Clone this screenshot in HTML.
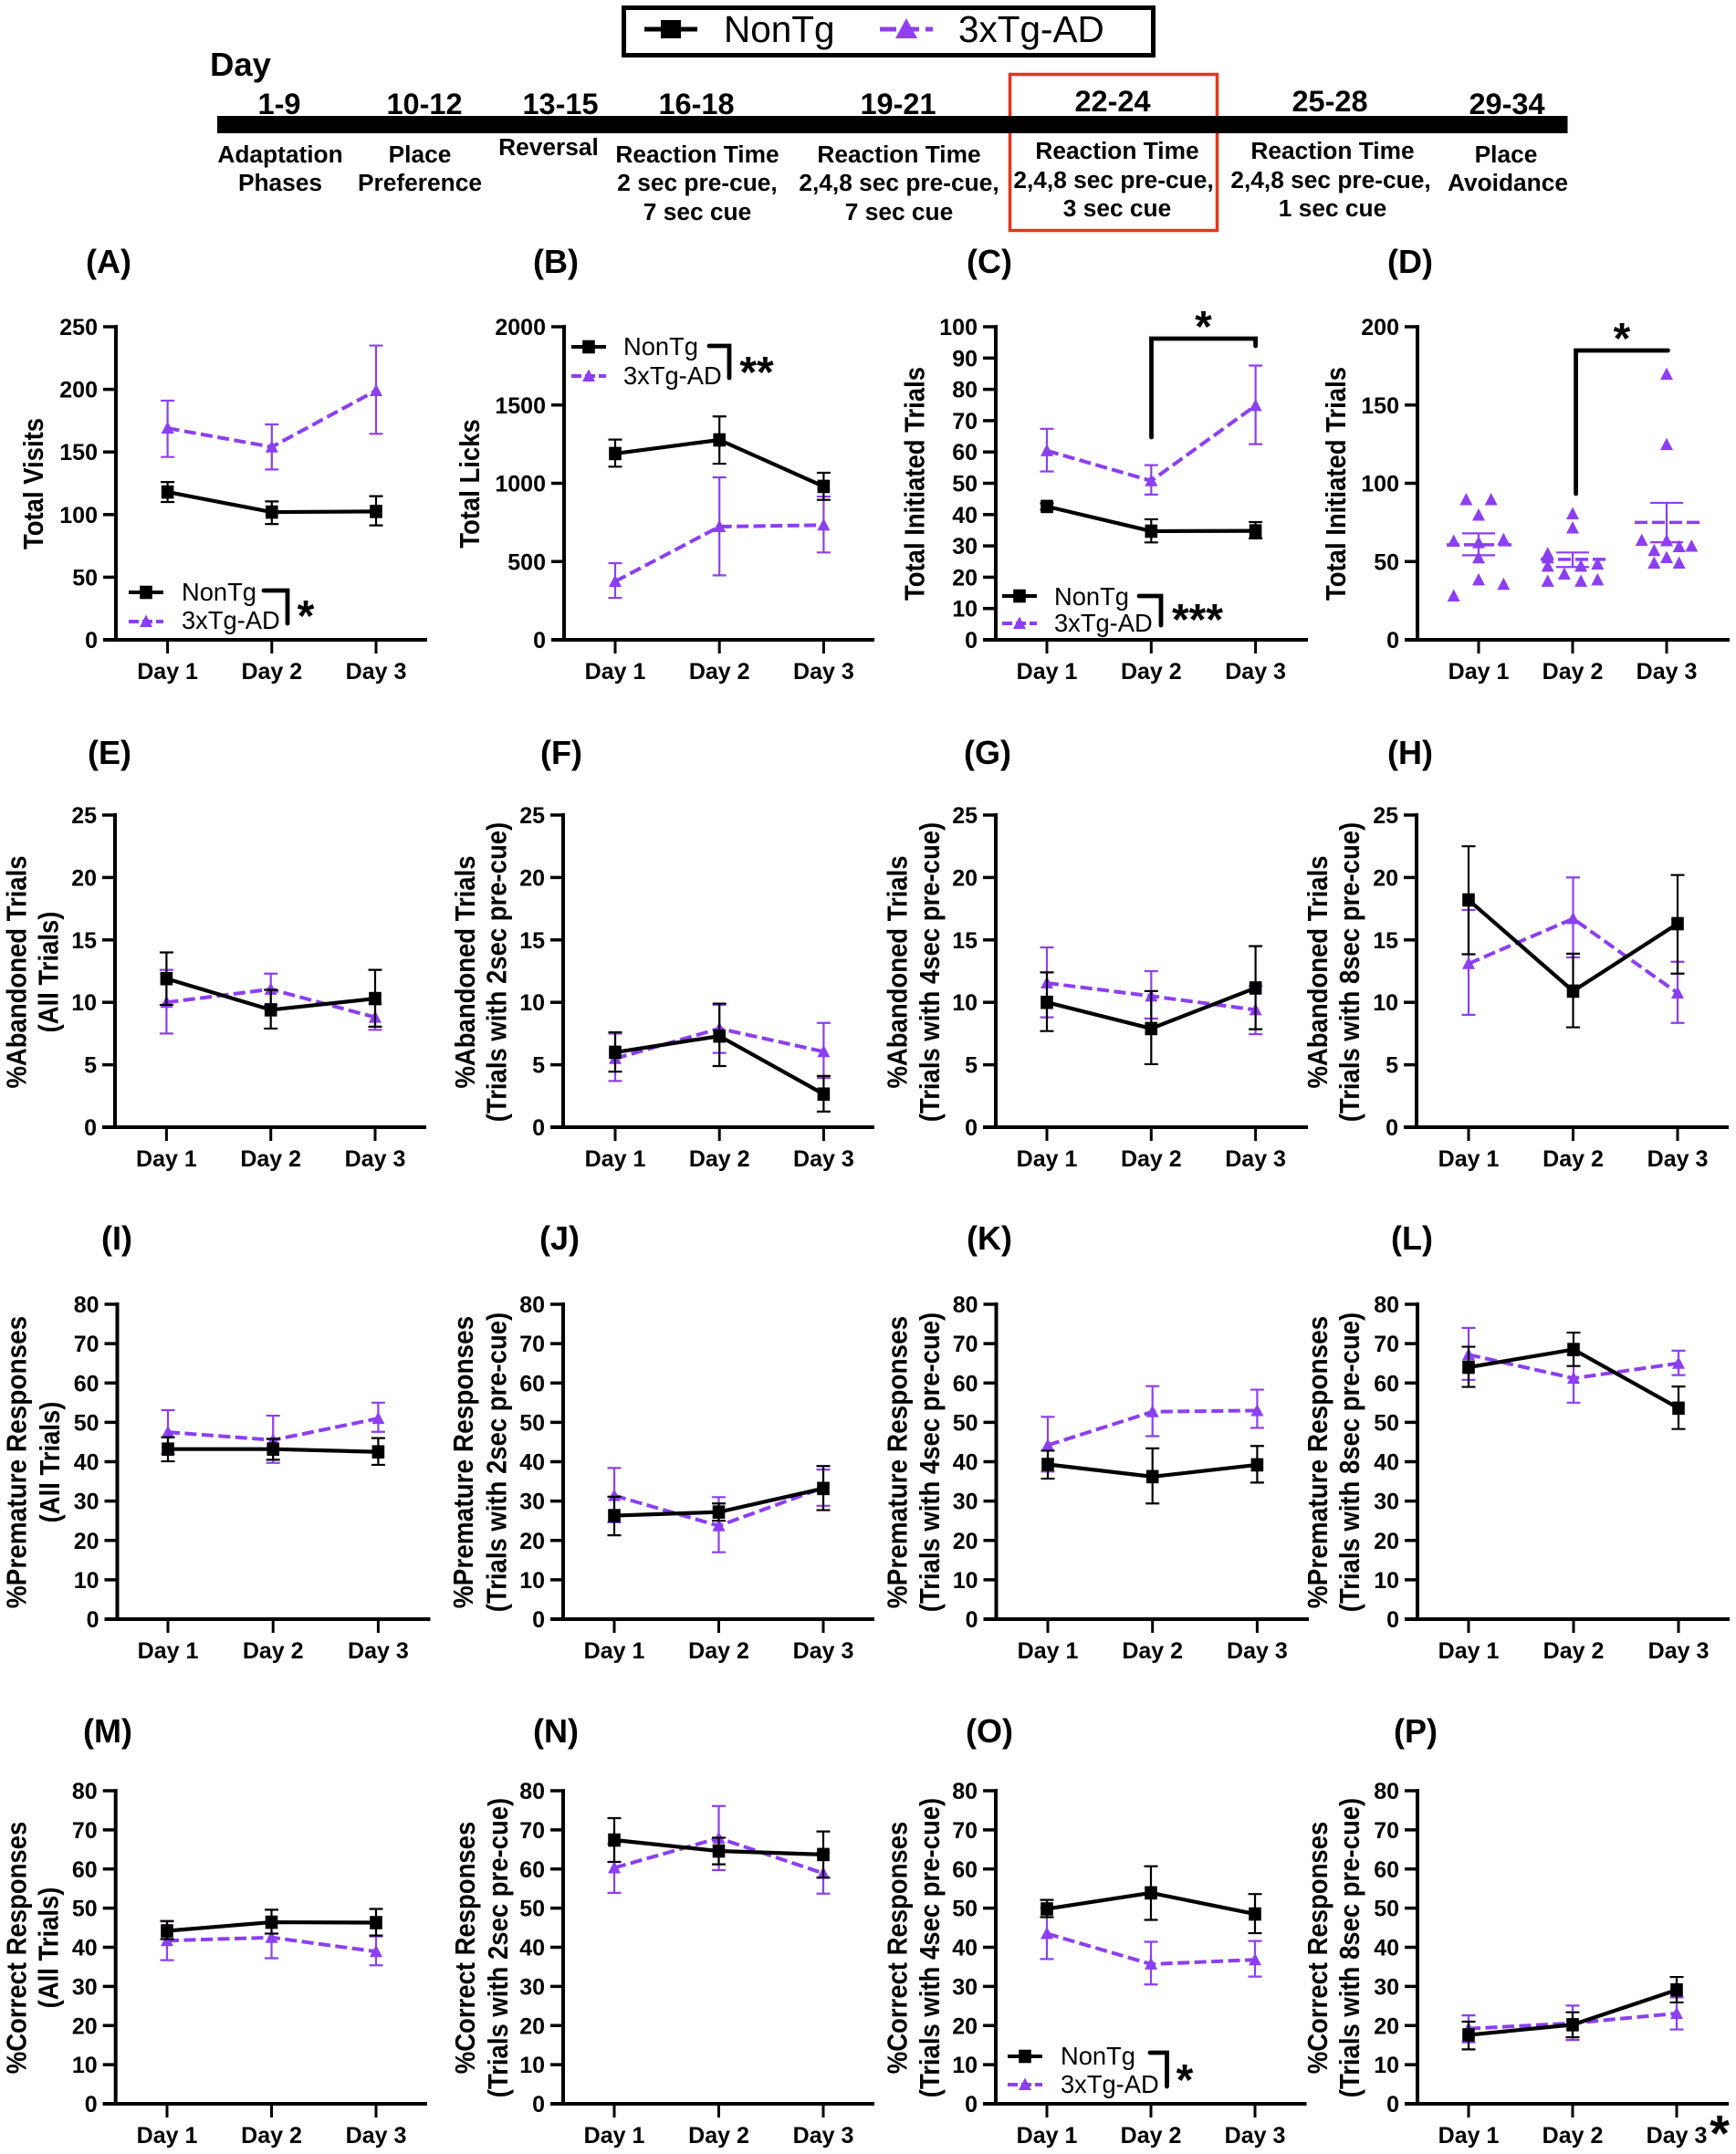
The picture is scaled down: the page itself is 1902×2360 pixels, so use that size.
<!DOCTYPE html>
<html lang="en">
<head>
<meta charset="utf-8">
<title>Reaction time task panels</title>
<style>
html,body{margin:0;padding:0;background:#fff}
svg{display:block;font-family:"Liberation Sans",Arial,sans-serif}
.b{font-weight:700}
</style>
</head>
<body>
<svg id="figure" xmlns="http://www.w3.org/2000/svg" width="1902" height="2360" viewBox="0 0 1902 2360">
<rect width="1902" height="2360" fill="#fff"/>
<g>
  <rect x="683.5" y="8.5" width="580" height="52" fill="#fff" stroke="#000" stroke-width="5"/>
  <line x1="706" y1="32" x2="764" y2="32" stroke="#000" stroke-width="5"/>
  <rect x="724" y="22" width="22" height="20" fill="#000"/>
  <text x="793" y="46" font-size="40.5">NonTg</text>
  <line x1="964" y1="32" x2="1022" y2="32" stroke="#8f3ff0" stroke-width="5" stroke-dasharray="18 7 18 7 8"/>
  <polygon points="993,20 1005,42 981,42" fill="#8f3ff0"/>
  <text x="1050" y="46" font-size="40.5">3xTg-AD</text>
</g>
<g text-anchor="middle" class="b">
  <text x="230" y="83" font-size="36.5" text-anchor="start">Day</text>
  <rect x="1106.5" y="81.5" width="227" height="171" fill="none" stroke="#e8331c" stroke-width="3.5"/>
  <rect x="238" y="127" width="1479.5" height="19" fill="#000"/>
  <g font-size="32.5">
    <text x="306" y="125">1-9</text>
    <text x="465" y="125">10-12</text>
    <text x="614" y="125">13-15</text>
    <text x="763" y="125">16-18</text>
    <text x="984" y="125">19-21</text>
    <text x="1219" y="122">22-24</text>
    <text x="1457" y="122">25-28</text>
    <text x="1651" y="125">29-34</text>
  </g>
  <g font-size="26.3">
    <text x="307" y="178">Adaptation</text>
    <text x="307" y="209">Phases</text>
    <text x="460" y="178">Place</text>
    <text x="460" y="209">Preference</text>
    <text x="601" y="170">Reversal</text>
    <text x="764" y="178">Reaction Time</text>
    <text x="764" y="209">2 sec pre-cue,</text>
    <text x="764" y="241">7 sec cue</text>
    <text x="985" y="178">Reaction Time</text>
    <text x="985" y="209">2,4,8 sec pre-cue,</text>
    <text x="985" y="241">7 sec cue</text>
    <text x="1224" y="174">Reaction Time</text>
    <text x="1220" y="206">2,4,8 sec pre-cue,</text>
    <text x="1224" y="237">3 sec cue</text>
    <text x="1460" y="174">Reaction Time</text>
    <text x="1458" y="206">2,4,8 sec pre-cue,</text>
    <text x="1460" y="237">1 sec cue</text>
    <text x="1650" y="178">Place</text>
    <text x="1652" y="209">Avoidance</text>
  </g>
</g>
<g id="panels"></g>
</svg>
<script>
// ---- categories and axis ticks ----
const categories = ['Day 1', 'Day 2', 'Day 3'];
const ticks250 = [0, 50, 100, 150, 200, 250];
const ticks2000 = [0, 500, 1000, 1500, 2000];
const ticks100 = [0, 10, 20, 30, 40, 50, 60, 70, 80, 90, 100];
const ticks200 = [0, 50, 100, 150, 200];
const ticks25 = [0, 5, 10, 15, 20, 25];
const ticks80 = [0, 10, 20, 30, 40, 50, 60, 70, 80];

// ---- series: mean, upper error, lower error per panel ----
const nonA = [118, 102, 102.5];
const nonAHi = [126, 110.5, 114.7];
const nonALo = [110, 92.5, 91.4];
const adA = [169, 154, 199];
const adAHi = [191, 172, 235];
const adALo = [146, 136, 164.5];

const nonB = [1190, 1277, 980];
const nonBHi = [1279, 1427, 1067];
const nonBLo = [1106, 1125, 894];
const adB = [373, 723, 733];
const adBHi = [490, 1038, 915];
const adBLo = [268, 412, 558];

const nonC = [42.6, 34.7, 34.8];
const nonCHi = [43.6, 38.5, 37.6];
const nonCLo = [41.6, 31.1, 32.4];
const adC = [60.4, 50.8, 74.8];
const adCHi = [67.4, 55.8, 87.6];
const adCLo = [53.8, 46.4, 62.5];

const dDay1 = [89.5, 89.5, 79.6, 63, 64, 62, 52.3, 38.3, 35.4, 28];
const dDay2 = [80.5, 71.4, 55, 52.3, 47, 47, 48.4, 42, 37.4, 37.4, 38.3];
const dDay3 = [169.6, 124.7, 63.5, 63.3, 59.5, 59.8, 57, 52.5, 49, 49];
const dSlots1 = [-1.5, 1.5, 0, -3, 3, 0, 0, 0, 3, -3];
const dSlots2 = [0, 0, -3, -3, -3, 1, 3, -1, -3, 1, 3];
const dSlots3 = [0, 0, -3, 0, 1.5, 3, -1.5, 0, -1.5, 1.5];
const dMean = [60.7, 51.4, 75];
const dHi = [68, 55.8, 87.5];
const dLo = [54, 46.5, 62.3];

const nonE = [11.9, 9.4, 10.3];
const nonEHi = [14, 11, 12.6];
const nonELo = [9.8, 7.9, 8.05];
const adE = [10, 11.05, 8.8];
const adEHi = [12.6, 12.3, 9.9];
const adELo = [7.5, 9.8, 7.8];

const nonF = [6, 7.3, 2.65];
const nonFHi = [7.6, 9.9, 4.1];
const nonFLo = [4.45, 4.9, 1.25];
const adF = [5.5, 7.9, 6.05];
const adFHi = [7.5, 9.8, 8.35];
const adFLo = [3.7, 5.95, 3.95];

const nonG = [10, 7.9, 11.15];
const nonGHi = [12.4, 10.9, 14.5];
const nonGLo = [7.7, 5.05, 7.85];
const adG = [11.55, 10.5, 9.4];
const adGHi = [14.4, 12.5, 11.3];
const adGLo = [8.8, 8.7, 7.45];

const nonH = [18.2, 10.9, 16.3];
const nonHHi = [22.5, 13.9, 20.2];
const nonHLo = [13.85, 8, 12.3];
const adH = [13.1, 16.7, 10.75];
const adHHi = [17.4, 20, 13.25];
const adHLo = [9, 13.6, 8.35];

const nonI = [43.2, 43.2, 42.5];
const nonIHi = [46.2, 45.8, 46];
const nonILo = [40.1, 40.5, 39.2];
const adI = [47.5, 45.5, 51];
const adIHi = [53.1, 51.7, 55];
const adILo = [42, 39.7, 47.6];

const nonJ = [26.3, 27.2, 33.2];
const nonJHi = [31.1, 29.4, 38.9];
const nonJLo = [21.3, 25, 27.7];
const adJ = [31.4, 23.7, 33.4];
const adJHi = [38.4, 31, 38];
const adJLo = [24.6, 17, 28.8];

const nonK = [39.3, 36.2, 39.2];
const nonKHi = [42.8, 43.4, 44];
const nonKLo = [35.7, 29.4, 34.7];
const adK = [44.2, 52.7, 53];
const adKHi = [51.4, 59.2, 58.3];
const adKLo = [37.5, 46.5, 48.6];

const nonL = [64, 68.5, 53.6];
const nonLHi = [69.2, 72.8, 59.1];
const nonLLo = [59, 64.3, 48.3];
const adL = [67.2, 61.2, 65];
const adLHi = [74, 67.2, 68.2];
const adLLo = [60.8, 55, 62];

const nonM = [44.2, 46.4, 46.3];
const nonMHi = [46.7, 49.6, 49.8];
const nonMLo = [42.1, 43.5, 43];
const adM = [41.7, 42.5, 38.9];
const adMHi = [46.6, 46.3, 42.8];
const adMLo = [36.7, 37.2, 35.4];

const nonN = [67.4, 64.6, 63.7];
const nonNHi = [73, 68, 69.6];
const nonNLo = [61.8, 61.2, 57.8];
const adN = [60.3, 67.9, 58.9];
const adNHi = [66.5, 76.1, 64.2];
const adNLo = [53.9, 59.7, 53.7];

const nonO = [49.8, 53.9, 48.5];
const nonOHi = [52.1, 60.7, 53.6];
const nonOLo = [47.7, 47, 43.6];
const adO = [43.5, 35.7, 36.8];
const adOHi = [50, 41.4, 41.6];
const adOLo = [37, 30.5, 32.5];

const nonP = [17.6, 20.2, 29.1];
const nonPHi = [21, 23.4, 32.4];
const nonPLo = [13.9, 17, 25.9];
const adP = [19.2, 20.6, 23.1];
const adPHi = [22.6, 25.1, 27.2];
const adPLo = [15.7, 16.3, 19];

// ---- drawing ----
const NS = 'http://www.w3.org/2000/svg';
const PURPLE = '#8c3ff2';
const rowTop = [358, 893, 1429, 1962];
const rowBottom = [701, 1235, 1774, 2305];
const root = document.getElementById('panels');

function svgEl(tag, attrs, parent, text) {
  const el = document.createElementNS(NS, tag);
  for (const k in attrs) el.setAttribute(k, attrs[k]);
  if (text !== undefined) el.textContent = text;
  parent.appendChild(el);
  return el;
}
function squareMark(cx, cy, parent) {
  return svgEl('rect', {x: cx - 6.8, y: cy - 7.3, width: 13.6, height: 14.6, fill: '#000'}, parent);
}
function triangleMark(cx, cy, parent) {
  return svgEl('polygon', {points: (cx) + ',' + (cy - 7.5) + ' ' + (cx + 7) + ',' + (cy + 6) + ' ' + (cx - 7) + ',' + (cy + 6), fill: PURPLE}, parent);
}
function stars(cx, cy, s, size, parent) {
  const el = svgEl('text', {x: cx, y: cy + 0.56 * size, 'font-size': size, 'font-weight': 700, 'text-anchor': 'middle'}, parent, s);
  
  
  return el;
}
function bracket(pts, parent) {
  const el = svgEl('polyline', {points: pts, fill: 'none', stroke: '#000', 'stroke-width': 4.8, 'stroke-linecap': 'round', 'stroke-linejoin': 'miter'}, parent);
  
  
  return el;
}

function drawAxes(p, g, xOf, yOf) {
  const top = rowTop[p.row], bottom = rowBottom[p.row];
  const letter = svgEl('text', {x: p.lx, y: p.ly, 'font-size': 36, 'font-weight': 700, 'text-anchor': 'middle'}, g, '(' + p.id + ')');
  
  

  const yAxis = svgEl('line', {x1: p.ax, y1: top - 2, x2: p.ax, y2: bottom + 2, stroke: '#000', 'stroke-width': 4}, g);
  
  
  const xAxis = svgEl('line', {x1: p.ax - 14, y1: bottom, x2: p.end, y2: bottom, stroke: '#000', 'stroke-width': 4}, g);
  
  

  p.ticks.forEach(function (t) {
    const tick = svgEl('line', {x1: p.ax - 14, y1: yOf(t), x2: p.ax, y2: yOf(t), stroke: '#000', 'stroke-width': 3.5}, g);
    
    
    const lab = svgEl('text', {x: p.ax - 20, y: yOf(t) + 9, 'font-size': 25, 'font-weight': 700, 'text-anchor': 'end'}, g, String(t));
    
    
  });
  categories.forEach(function (c, i) {
    const tick = svgEl('line', {x1: xOf(i), y1: bottom, x2: xOf(i), y2: bottom + 15, stroke: '#000', 'stroke-width': 3}, g);
    
    
    const lab = svgEl('text', {x: xOf(i), y: bottom + 43, 'font-size': 25, 'font-weight': 700, 'text-anchor': 'middle'}, g, c);
    
    
  });
  p.title.forEach(function (line, i) {
    const bx = p.tx[i];
    const size = line.indexOf('%Premature') === 0 ? 28 : 27.5;
    const t = svgEl('text', {x: 0, y: 0, transform: 'translate(' + bx + ' ' + p.tc + ') rotate(-90) scale(1 1.1)', 'font-size': size, 'font-weight': 700, 'text-anchor': 'middle'}, g, line);
    
    
  });
}

function drawErrors(hi, lo, color, xOf, yOf, g, capHalf, name) {
  hi.forEach(function (h, i) {
    const x = xOf(i), yh = yOf(h), yl = yOf(lo[i]);
    const path = svgEl('path', {d: 'M' + (x - capHalf) + ' ' + yh + 'H' + (x + capHalf) + 'M' + x + ' ' + yh + 'V' + yl + 'M' + (x - capHalf) + ' ' + yl + 'H' + (x + capHalf), fill: 'none', stroke: color, 'stroke-width': 2.2}, g);
    
    
  });
}

function drawPanel(p) {
  const g = svgEl('g', {}, root);
  
  
  const top = rowTop[p.row], bottom = rowBottom[p.row];
  const max = p.ticks[p.ticks.length - 1];
  const xOf = function (i) { return p.x1 + i * p.dx; };
  const yOf = function (v) { return bottom - v / max * (bottom - top); };
  drawAxes(p, g, xOf, yOf);

  drawErrors(p.ad[1], p.ad[2], PURPLE, xOf, yOf, g, 7.5, '3xtg-error-bar');
  const adLine = svgEl('polyline', {points: p.ad[0].map(function (v, i) { return xOf(i) + ',' + yOf(v); }).join(' '), fill: 'none', stroke: PURPLE, 'stroke-width': 4, 'stroke-dasharray': '13 5.5'}, g);
  
  
  p.ad[0].forEach(function (v, i) {
    const m = triangleMark(xOf(i), yOf(v), g);
    
    
  });

  drawErrors(p.non[1], p.non[2], '#000', xOf, yOf, g, 7.5, 'nontg-error-bar');
  const nonLine = svgEl('polyline', {points: p.non[0].map(function (v, i) { return xOf(i) + ',' + yOf(v); }).join(' '), fill: 'none', stroke: '#000', 'stroke-width': 4.2}, g);
  
  
  p.non[0].forEach(function (v, i) {
    const m = squareMark(xOf(i), yOf(v), g);
    
    
  });
  return g;
}

function drawScatter(p) {
  const g = svgEl('g', {}, root);
  
  
  const top = rowTop[p.row], bottom = rowBottom[p.row];
  const max = p.ticks[p.ticks.length - 1];
  const xOf = function (i) { return p.x1 + i * p.dx; };
  const yOf = function (v) { return bottom - v / max * (bottom - top); };
  drawAxes(p, g, xOf, yOf);

  const groups = [dDay1, dDay2, dDay3];
  const slots = [dSlots1, dSlots2, dSlots3];
  groups.forEach(function (vals, i) {
    vals.forEach(function (v, j) {
      const m = triangleMark(xOf(i) + slots[i][j] * 9.1, yOf(v), g);
      
      
    });
  });
  drawErrors(dHi, dLo, PURPLE, xOf, yOf, g, 18, '3xtg-error-bar');
  dMean.forEach(function (v, i) {
    const m = svgEl('line', {x1: xOf(i) - 35, y1: yOf(v), x2: xOf(i) + 36, y2: yOf(v), stroke: PURPLE, 'stroke-width': 3.5, 'stroke-dasharray': '14 5'}, g);
    
    
  });
  return g;
}

function drawLegend(g, lx1, lx2, yNon, yAd, tx, bNon, bAd) {
  const lg = svgEl('g', {}, g);
  
  
  const cx = (lx1 + lx2) / 2;
  const a = svgEl('line', {x1: lx1, y1: yNon, x2: lx2, y2: yNon, stroke: '#000', 'stroke-width': 4}, lg);
  
  
  const am = squareMark(cx, yNon, lg);
  
  
  const at = svgEl('text', {x: tx, y: bNon, 'font-size': 27.3}, lg, 'NonTg');
  
  
  const b = svgEl('line', {x1: lx1, y1: yAd, x2: lx2, y2: yAd, stroke: PURPLE, 'stroke-width': 4, 'stroke-dasharray': '11 4 11 4 8'}, lg);
  
  
  const bm = triangleMark(cx, yAd, lg);
  
  
  const bt = svgEl('text', {x: tx, y: bAd, 'font-size': 27.3}, lg, '3xTg-AD');
  
  
}

const ab2 = '(Trials with 2sec pre-cue)', ab4 = '(Trials with 4sec pre-cue)', ab8 = '(Trials with 8sec pre-cue)';

const gA = drawPanel({id: 'A', row: 0, lx: 119, ly: 299, ax: 127, x1: 183.6, dx: 114.2, end: 468, ticks: ticks250, title: ['Total Visits'], tx: [47], tc: 530, non: [nonA, nonAHi, nonALo], ad: [adA, adAHi, adALo]});
drawLegend(gA, 141, 179, 649, 681, 199, 658, 689);
bracket('289,647 315,647 315,683', gA);
stars(335, 664, '*', 48, gA);

const gB = drawPanel({id: 'B', row: 0, lx: 609, ly: 299, ax: 618, x1: 674, dx: 114.2, end: 958, ticks: ticks2000, title: ['Total Licks'], tx: [525], tc: 530, non: [nonB, nonBHi, nonBLo], ad: [adB, adBHi, adBLo]});
drawLegend(gB, 626, 664, 380, 412, 683, 389, 421);
bracket('777,379 799,379 799,414', gB);
stars(829, 397, '**', 48, gB);

const gC = drawPanel({id: 'C', row: 0, lx: 1084, ly: 299, ax: 1091, x1: 1147, dx: 114.3, end: 1433, ticks: ticks100, title: ['Total Initiated Trials'], tx: [1012.5], tc: 530, non: [nonC, nonCHi, nonCLo], ad: [adC, adCHi, adCLo]});
drawLegend(gC, 1098, 1136, 653, 683, 1155, 663, 692);
bracket('1248,653 1272,653 1272,685', gC);
stars(1312, 668, '***', 48, gC);
bracket('1261.5,479 1261.5,371 1375.6,371 1375.6,379', gC);
stars(1318.5, 347, '*', 48, gC);

const gD = drawScatter({id: 'D', row: 0, lx: 1545, ly: 299, ax: 1553, x1: 1620, dx: 103, end: 1895, ticks: ticks200, title: ['Total Initiated Trials'], tx: [1474], tc: 530});
bracket('1726.6,541 1726.6,384 1827.4,384', gD);
stars(1777, 360, '*', 48, gD);

drawPanel({id: 'E', row: 1, lx: 120, ly: 837, ax: 126, x1: 182.4, dx: 114.3, end: 467, ticks: ticks25, title: ['%Abandoned Trials', '(All Trials)'], tx: [28.5, 63.6], tc: 1065, non: [nonE, nonEHi, nonELo], ad: [adE, adEHi, adELo]});
drawPanel({id: 'F', row: 1, lx: 615, ly: 837, ax: 617, x1: 674, dx: 114.2, end: 958, ticks: ticks25, title: ['%Abandoned Trials', ab2], tx: [520, 554.5], tc: 1065, non: [nonF, nonFHi, nonFLo], ad: [adF, adFHi, adFLo]});
drawPanel({id: 'G', row: 1, lx: 1082, ly: 837, ax: 1091, x1: 1147, dx: 114.3, end: 1433, ticks: ticks25, title: ['%Abandoned Trials', ab4], tx: [993.7, 1029], tc: 1065, non: [nonG, nonGHi, nonGLo], ad: [adG, adGHi, adGLo]});
drawPanel({id: 'H', row: 1, lx: 1545, ly: 837, ax: 1552, x1: 1609, dx: 114.5, end: 1894, ticks: ticks25, title: ['%Abandoned Trials', ab8], tx: [1454, 1489], tc: 1065, non: [nonH, nonHHi, nonHLo], ad: [adH, adHHi, adHLo]});

drawPanel({id: 'I', row: 2, lx: 128, ly: 1369, ax: 128.5, x1: 184, dx: 115.2, end: 471.5, ticks: ticks80, title: ['%Premature Responses', '(All Trials)'], tx: [28.5, 65], tc: 1602, non: [nonI, nonIHi, nonILo], ad: [adI, adIHi, adILo]});
drawPanel({id: 'J', row: 2, lx: 613, ly: 1369, ax: 617, x1: 673, dx: 114.5, end: 958, ticks: ticks80, title: ['%Premature Responses', ab2], tx: [518, 554.5], tc: 1602, non: [nonJ, nonJHi, nonJLo], ad: [adJ, adJHi, adJLo]});
drawPanel({id: 'K', row: 2, lx: 1084, ly: 1369, ax: 1091.5, x1: 1148, dx: 114.7, end: 1434, ticks: ticks80, title: ['%Premature Responses', ab4], tx: [993.7, 1029], tc: 1602, non: [nonK, nonKHi, nonKLo], ad: [adK, adKHi, adKLo]});
drawPanel({id: 'L', row: 2, lx: 1547, ly: 1369, ax: 1553, x1: 1609, dx: 115, end: 1895, ticks: ticks80, title: ['%Premature Responses', ab8], tx: [1454, 1489], tc: 1602, non: [nonL, nonLHi, nonLLo], ad: [adL, adLHi, adLLo]});

drawPanel({id: 'M', row: 3, lx: 118, ly: 1909, ax: 126.7, x1: 183, dx: 114.5, end: 468, ticks: ticks80, title: ['%Correct Responses', '(All Trials)'], tx: [28.5, 63.6], tc: 2134, non: [nonM, nonMHi, nonMLo], ad: [adM, adMHi, adMLo]});
drawPanel({id: 'N', row: 3, lx: 609, ly: 1909, ax: 617, x1: 673, dx: 114.5, end: 958, ticks: ticks80, title: ['%Correct Responses', ab2], tx: [520, 556], tc: 2134, non: [nonN, nonNHi, nonNLo], ad: [adN, adNHi, adNLo]});
const gO = drawPanel({id: 'O', row: 3, lx: 1084, ly: 1909, ax: 1091, x1: 1147, dx: 114, end: 1431.5, ticks: ticks80, title: ['%Correct Responses', ab4], tx: [993.7, 1029], tc: 2134, non: [nonO, nonOHi, nonOLo], ad: [adO, adOHi, adOLo]});
drawLegend(gO, 1104, 1142, 2253, 2284, 1162, 2262, 2293);
bracket('1260,2249 1278.5,2249 1278.5,2286', gO);
stars(1298, 2268, '*', 48, gO);
const gP = drawPanel({id: 'P', row: 3, lx: 1551, ly: 1909, ax: 1553, x1: 1609, dx: 114, end: 1894, ticks: ticks80, title: ['%Correct Responses', ab8], tx: [1454, 1489], tc: 2134, non: [nonP, nonPHi, nonPLo], ad: [adP, adPHi, adPLo]});
stars(1884, 2325, '*', 56, gP);
</script>
</body>
</html>
